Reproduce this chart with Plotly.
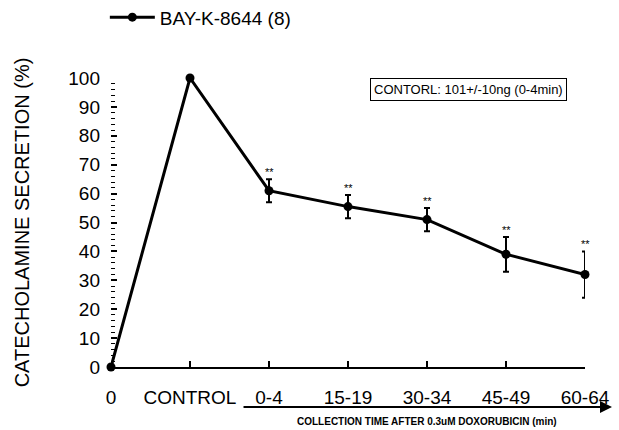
import plotly.graph_objects as go

categories = ["0", "CONTROL", "0-4", "15-19", "30-34", "45-49", "60-64"]
secretion = [0, 100, 61, 55.5, 51, 39, 32]
sem = [0, 0, 4, 4, 4, 6, 8]
signif = ["", "", "**", "**", "**", "**", "**"]
series_name = "BAY-K-8644 (8)"
box_text = "CONTORL: 101+/-10ng (0-4min)"
x_note = "COLLECTION TIME AFTER 0.3uM DOXORUBICIN (min)"
y_title = "CATECHOLAMINE SECRETION (%)"

xs = list(range(len(categories)))
FONT = "Liberation Sans, Arial, sans-serif"

fig = go.Figure()
fig.add_trace(go.Scatter(
    x=xs, y=secretion, name=series_name, mode="lines+markers",
    line=dict(color="black", width=3),
    marker=dict(color="black", size=9),
    error_y=dict(type="data", array=[s if s > 0 else None for s in sem],
                 visible=True, color="black", thickness=2, width=3),
    cliponaxis=False,
))

for x, y, e, s in zip(xs, secretion, sem, signif):
    if s:
        fig.add_annotation(x=x, y=y + e, text=s, showarrow=False, yanchor="bottom",
                           yshift=-1, font=dict(family=FONT, size=11, color="black"))

fig.add_annotation(xref="paper", yref="paper", x=0.755, y=0.96, text=box_text,
                   xanchor="center", yanchor="middle",
                   showarrow=False, bordercolor="black", borderwidth=1, borderpad=3,
                   font=dict(family=FONT, size=13, color="black"))

# arrow under the x tick labels
fig.add_annotation(xref="paper", yref="paper", x=1.057, y=-0.138, ax=-370, ay=0,
                   axref="pixel", ayref="pixel", text="", showarrow=True,
                   arrowhead=2, arrowsize=1.2, arrowwidth=2, arrowcolor="black")
fig.add_annotation(xref="paper", yref="paper", x=0.667, y=-0.187, text=x_note,
                   xanchor="center", yanchor="middle",
                   showarrow=False, font=dict(family=FONT, size=10, color="black", weight="bold"))

fig.update_layout(
    width=619, height=430,
    margin=dict(l=111, r=34, t=78, b=63, autoexpand=False),
    paper_bgcolor="white", plot_bgcolor="white",
    font=dict(family=FONT, color="black"),
    showlegend=True,
    legend=dict(x=-0.013, y=1.21, xanchor="left", yanchor="middle", itemwidth=45,
                font=dict(family=FONT, size=19, color="black"), bgcolor="rgba(0,0,0,0)"),
    xaxis=dict(range=[0, 6], tickvals=xs, ticktext=categories,
               showgrid=False, zeroline=False, showline=True, linecolor="black", linewidth=1.5,
               ticks="inside", ticklen=6, tickcolor="black", tickwidth=1.5,
               tickfont=dict(family=FONT, size=19, color="black"), ticklabelstandoff=12),
    yaxis=dict(range=[0, 100], tickvals=list(range(0, 101, 10)),
               showgrid=False, zeroline=False, showline=False,
               ticks="inside", ticklen=6, tickcolor="black", tickwidth=1.5,
               minor=dict(dtick=2, ticks="inside", ticklen=4, tickcolor="black", tickwidth=1),
               tickfont=dict(family=FONT, size=19, color="black"), ticklabelstandoff=10,
               title=dict(text=y_title, font=dict(family=FONT, size=20, color="black"), standoff=33)),
)

fig.write_html("out.html")
